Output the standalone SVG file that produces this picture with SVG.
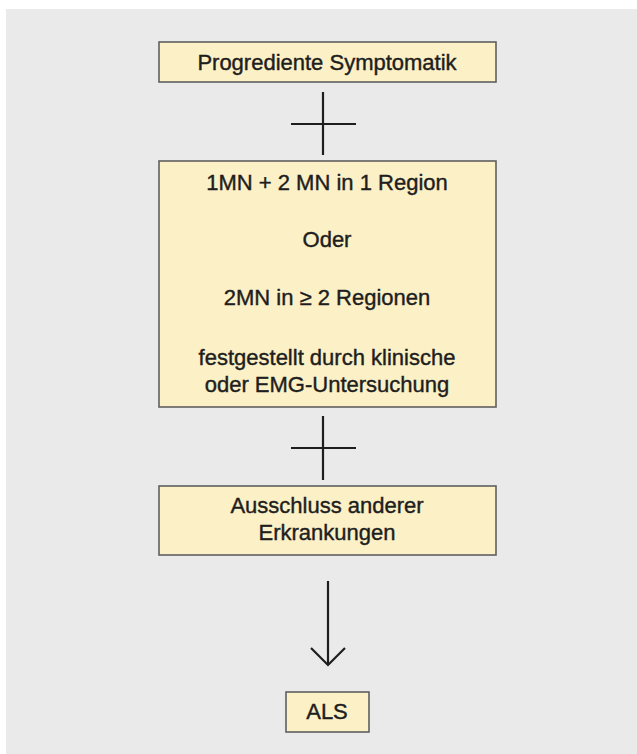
<svg xmlns="http://www.w3.org/2000/svg" width="637" height="754" viewBox="0 0 637 754">
<style>
.box{fill:#fcf0c6;stroke:#5f5f5f;stroke-width:1.6}
.t{font-family:"Liberation Sans",Arial,sans-serif;font-size:22px;fill:#1e1e1e;stroke:#1e1e1e;stroke-width:0.4;text-anchor:middle}
.ln{stroke:#1e1e1e;stroke-width:2.2;fill:none;stroke-linecap:butt}
</style>
<rect x="0" y="0" width="637" height="754" fill="#ffffff"/>
<rect x="6" y="9" width="631" height="745" fill="#eaeaeb"/>
<g id="n1">
<rect class="box" x="159" y="42" width="337" height="40"/>
<text class="t" x="327" y="70">Progrediente Symptomatik</text>
</g>
<g id="n2">
<rect class="box" x="159" y="161" width="337" height="246"/>
<text class="t" x="327" y="190">1MN + 2 MN in 1 Region</text>
<text class="t" x="327" y="247">Oder</text>
<text class="t" x="327" y="305">2MN in ≥ 2 Regionen</text>
<text class="t" x="327" y="365">festgestellt durch klinische</text>
<text class="t" x="327" y="392">oder EMG-Untersuchung</text>
</g>
<g id="n3">
<rect class="box" x="159" y="486" width="337" height="69"/>
<text class="t" x="327" y="513">Ausschluss anderer</text>
<text class="t" x="327" y="540">Erkrankungen</text>
</g>
<g id="n4">
<rect class="box" x="286" y="692" width="83" height="40"/>
<text class="t" x="327" y="719">ALS</text>
</g>
<g id="connectors">
<path class="ln" d="M323 92V155M291 124H356"/>
<path class="ln" d="M323 416V480M291 448H356"/>
<path class="ln" stroke-width="2.6" d="M328 581V665"/>
<path class="ln" stroke-width="2.6" stroke-linejoin="miter" d="M311 648L328 665L345 648"/>
</g>
</svg>
